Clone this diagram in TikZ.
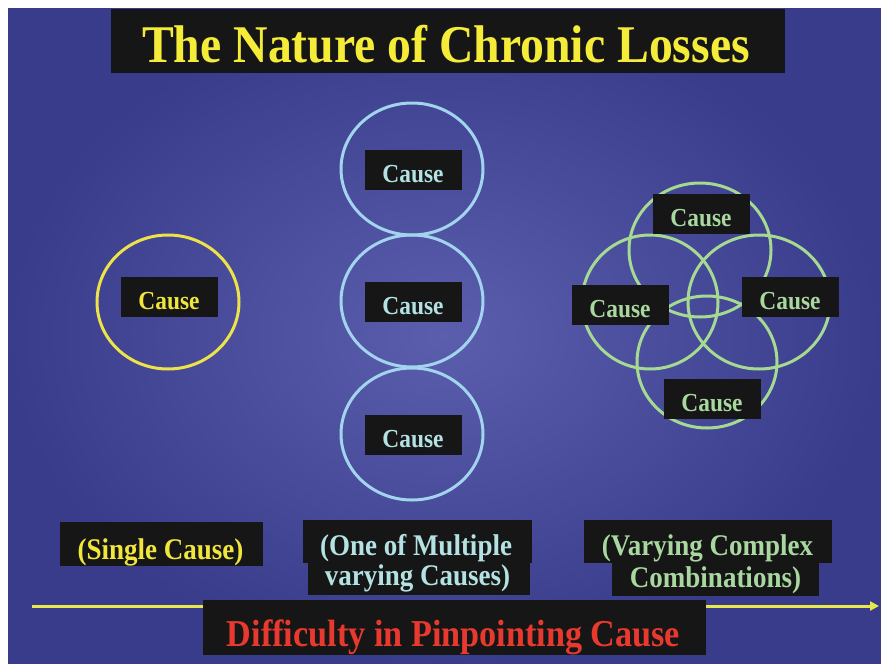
\documentclass[tikz,border=0pt]{standalone}
\usepackage{fontspec}
\setmainfont{Liberation Serif}[FakeStretch=0.9]
\usetikzlibrary{arrows.meta}

\definecolor{bgin}{HTML}{5A5EAC}
\definecolor{bgout}{HTML}{383C8A}
\definecolor{boxblack}{HTML}{161616}
\definecolor{titleyellow}{HTML}{F5EC3A}
\definecolor{causeyellow}{HTML}{F0E63C}
\definecolor{ringyellow}{HTML}{EEE24A}
\definecolor{aquatext}{HTML}{B4E2E2}
\definecolor{ringaqua}{HTML}{A2D4EE}
\definecolor{greentext}{HTML}{A8D8A0}
\definecolor{ringgreen}{HTML}{A6DA92}
\definecolor{redtext}{HTML}{E8392F}
\definecolor{arrowyellow}{HTML}{E8E84A}

\begin{document}
\begin{tikzpicture}[x=1pt,y=-1pt,
  blk/.style={fill=boxblack, inner sep=0pt, outer sep=0pt},
  causebox/.style={blk, minimum width=97pt, minimum height=40pt,
    text height=24pt, text depth=0pt,
    font=\fontsize{26}{28}\selectfont\bfseries},
  ring/.style={line width=3pt},
  lbl/.style={anchor=base, inner sep=0pt, font=\fontsize{30}{30}\selectfont\bfseries},
  arrowline/.style={draw=arrowyellow, line width=3pt,
    -{Triangle[length=9pt,width=9pt]}}
]
\useasboundingbox (0,0) rectangle (881,664);
\fill[white] (0,0) rectangle (881,664);
\shade[inner color=bgin, outer color=bgout] (8,8) rectangle (881,663);

% title
\node[blk, minimum width=674pt, minimum height=64pt] (titlebox) at (448,41) {};
\node[anchor=base, inner sep=0pt, text=titleyellow,
  font=\fontsize{53}{53}\selectfont\bfseries] (title) at (446,62)
  {The Nature of Chronic Losses};

% single cause
\draw[ring, ringyellow] (168,302) ellipse [x radius=71, y radius=67];
\node[causebox, text=causeyellow] (single) at (169,297) {Cause};

% multiple causes
\draw[ring, ringaqua] (412,169) ellipse [x radius=71, y radius=66];
\draw[ring, ringaqua] (412,301) ellipse [x radius=71, y radius=66];
\draw[ring, ringaqua] (412,434) ellipse [x radius=71, y radius=66];
\node[causebox, text=aquatext] (m1) at (413,170) {Cause};
\node[causebox, text=aquatext] (m2) at (413,302) {Cause};
\node[causebox, text=aquatext] (m3) at (413,435) {Cause};

% combined causes
\draw[ring, ringgreen] (700,250) ellipse [x radius=71, y radius=67];
\draw[ring, ringgreen] (707,362) ellipse [x radius=70, y radius=66];
\draw[ring, ringgreen] (650,302) ellipse [x radius=68, y radius=67];
\draw[ring, ringgreen] (759,302) ellipse [x radius=71, y radius=67];
\node[causebox, text=greentext] (rtop) at (701,214) {Cause};
\node[causebox, text=greentext] (rleft) at (620,305) {Cause};
\node[causebox, text=greentext] (rright) at (790,297) {Cause};
\node[causebox, text=greentext] (rbottom) at (712,399) {Cause};

% captions
\node[blk, minimum width=203pt, minimum height=44pt] (singlebox) at (161.5,544) {};
\node[lbl, text=causeyellow] (singlelbl) at (160.5,559) {(Single Cause)};

\node[blk, minimum width=229pt, minimum height=43pt] (multbox1) at (417.5,541.5) {};
\node[blk, minimum width=222pt, minimum height=36pt] (multbox2) at (419,577) {};
\node[lbl, text=aquatext] (multlbl1) at (416,555) {(One of Multiple};
\node[lbl, text=aquatext] (multlbl2) at (417.5,585) {varying Causes)};

\node[blk, minimum width=248pt, minimum height=43pt] (combbox1) at (708,541.5) {};
\node[blk, minimum width=207pt, minimum height=36pt] (combbox2) at (715.5,578) {};
\node[lbl, text=greentext] (comblbl1) at (707.5,555) {(Varying Complex};
\node[lbl, text=greentext] (comblbl2) at (715.5,587) {Combinations)};

% difficulty axis
\coordinate (axisstart) at (32,606);
\coordinate (axisend) at (879,606);
\draw[arrowline] (axisstart) -- (axisend);
\node[blk, minimum width=503pt, minimum height=55pt] (diffbox) at (454.5,627.5) {};
\node[anchor=base, inner sep=0pt, text=redtext,
  font=\fontsize{38}{38}\selectfont\bfseries] (difflbl) at (453.5,646)
  {Difficulty in Pinpointing Cause};
\end{tikzpicture}
\end{document}
